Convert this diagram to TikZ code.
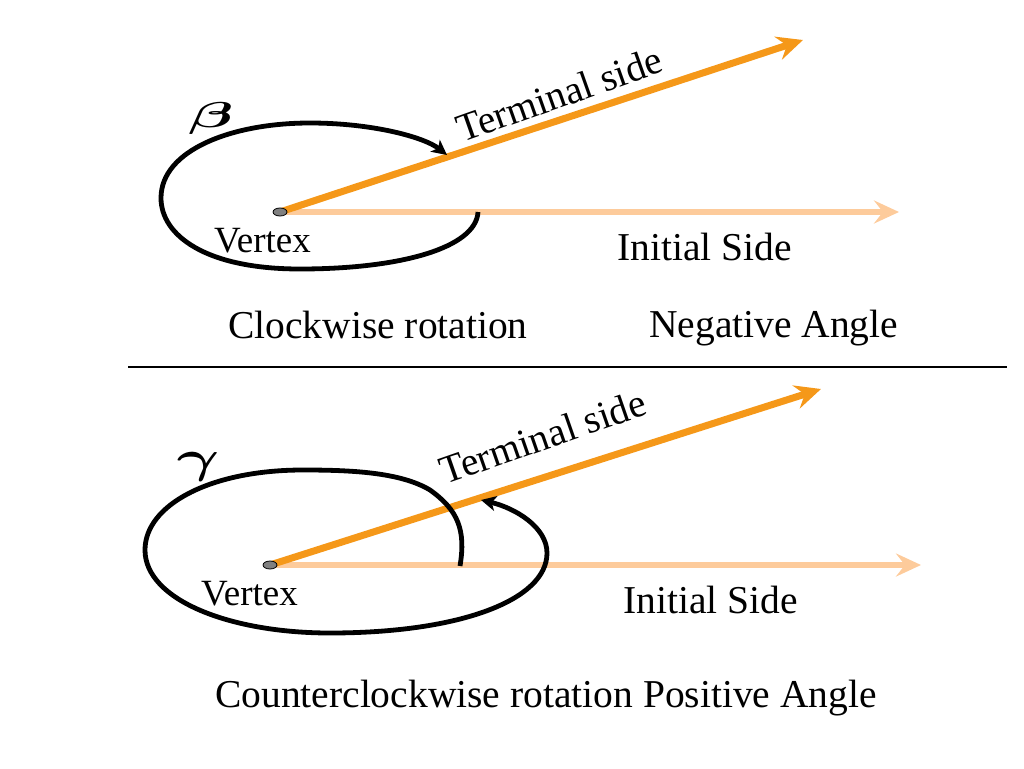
\documentclass[tikz,border=0pt]{standalone}
\usepackage{bm}
\usepackage{fontspec}
\setmainfont{Liberation Serif}
\usetikzlibrary{arrows.meta,shapes.geometric}
\definecolor{termorange}{RGB}{245,152,25}
\definecolor{initorange}{RGB}{253,203,155}
\definecolor{dotgray}{RGB}{128,128,128}
\begin{document}
\begin{tikzpicture}[x=1pt,y=-1pt,
  txt/.style={inner sep=0pt,anchor=base west,font=\fontsize{39.5}{47}\selectfont},
  vtxt/.style={inner sep=0pt,anchor=base west,font=\fontsize{37}{44}\selectfont},
  greek/.style={inner sep=0pt,anchor=center},
  termline/.style={draw=termorange,line width=7pt,-{Stealth[length=26pt,width=24pt,inset=9pt]}},
  initline/.style={draw=initorange,line width=6pt,-{Stealth[length=25pt,width=23pt,inset=9pt]}},
  rotloop/.style={draw=black,line width=4.8pt,-{Stealth[length=15pt,width=15pt,inset=4pt]}},
  vertexdot/.style={ellipse,draw=black,line width=0.8pt,fill=dotgray,minimum width=14pt,minimum height=8pt,inner sep=0pt},
  sepline/.style={draw=black,line width=1.5pt}]
\useasboundingbox (0,0) rectangle (1024,768);

% ---------- top diagram ----------
\coordinate (v1c) at (280,212);
\coordinate (t1tip) at (803,40);
\coordinate (i1tip) at (899,212);
\draw[initline] (v1c) -- (i1tip);
\draw[termline] (v1c) -- (t1tip);
\node[vertexdot] (v1) at (v1c) {};

\coordinate (a1s) at (478,212);
\coordinate (a1e) at (447,155);
\draw[rotloop] (a1s) .. controls (476,248) and (400,269) .. (300,269)
  .. controls (205,269) and (161,235) .. (161,198)
  .. controls (161,150) and (232,123) .. (310,123)
  .. controls (372,123) and (424,137) .. (a1e);

\node[greek] (beta) at (211,118) {\scalebox{6.5}[3.6]{$\bm{\beta}$}};
\node[vtxt] (vt1) at (214,252) {Vertex};
\node[txt] (init1) at (617,260) {Initial Side};
\node[txt,rotate=19.5] (term1) at (462,143) {Terminal side};
\node[txt] (cw) at (228,338) {Clockwise rotation};
\node[txt] (neg) at (649,337) {Negative Angle};

% ---------- separator ----------
\coordinate (sepL) at (128,367);
\coordinate (sepR) at (1007,367);
\draw[sepline] (sepL) -- (sepR);

% ---------- bottom diagram ----------
\coordinate (v2c) at (270,565);
\coordinate (t2tip) at (821,389);
\coordinate (i2tip) at (921,565);
\draw[initline] (v2c) -- (i2tip);
\draw[termline] (v2c) -- (t2tip);
\node[vertexdot] (v2) at (v2c) {};

\coordinate (a2s) at (460,566);
\coordinate (a2e) at (481,500);
\draw[rotloop] (a2s) .. controls (466,530) and (458,510) .. (430,490)
  .. controls (400,472) and (350,470) .. (303,470)
  .. controls (210,470) and (145,505) .. (145,550)
  .. controls (145,600) and (230,633) .. (330,633)
  .. controls (460,633) and (547,600) .. (547,553)
  .. controls (547,527) and (515,508) .. (a2e);

\node[greek] (gamma) at (198,467) {\scalebox{6.5}[4.5]{$\bm{\gamma}$}};
\node[vtxt] (vt2) at (201,605) {Vertex};
\node[txt] (init2) at (623,613) {Initial Side};
\node[txt,rotate=19.2] (term2) at (445,485) {Terminal side};
\node[txt] (ccw) at (215,707) {Counterclockwise rotation Positive Angle};
\end{tikzpicture}
\end{document}
